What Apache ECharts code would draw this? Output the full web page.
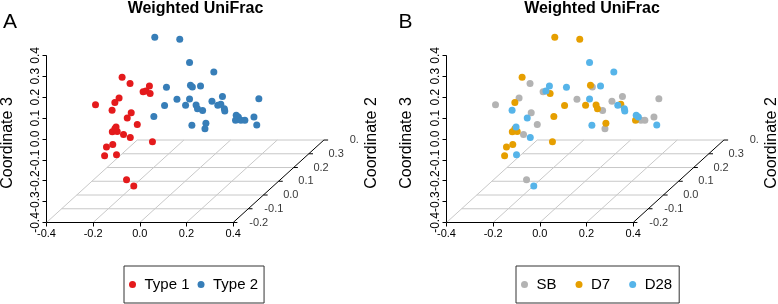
<!DOCTYPE html>
<html>
<head>
<meta charset="utf-8">
<script src="https://cdn.jsdelivr.net/npm/echarts@6/dist/echarts.min.js"></script>
<style>
html, body { margin: 0; padding: 0; background: #fff; }
#chart { width: 778px; height: 304px; }
</style>
</head>
<body>
<div id="chart"></div>
<script>
var FONT = 'Liberation Sans, Arial, sans-serif';

// samples: position along coordinate 1 and 3 as projected on the front face
var coord1 = [
    -0.076, -0.042, 0.041, 0.014, 0.026, 0.044, -0.089, -0.107, -0.190, -0.119,
    -0.037, -0.054, -0.011, -0.102, -0.118, -0.097, -0.107, -0.070, -0.041, 0.054,
    -0.116, -0.143, -0.151, -0.100, -0.057, -0.026,
    0.064, 0.171, 0.213, 0.317, 0.217, 0.225, 0.260, 0.114, 0.159, 0.213,
    0.309, 0.354, 0.510, 0.106, 0.196, 0.241, 0.247, 0.269, 0.334, 0.347,
    0.362, 0.364, 0.413, 0.422, 0.424, 0.410, 0.433, 0.450, 0.489, 0.501,
    0.223, 0.283, 0.279, 0.060
];
var coord3 = [
    0.295, 0.266, 0.253, 0.226, 0.230, 0.218, 0.196, 0.174, 0.164, 0.137,
    0.125, 0.100, 0.069, 0.057, 0.034, 0.036, 0.049, 0.021, 0.007, -0.014,
    -0.026, -0.039, -0.080, -0.076, -0.195, -0.225,
    0.487, 0.477, 0.366, 0.321, 0.257, 0.249, 0.254, 0.248, 0.190, 0.191,
    0.181, 0.203, 0.192, 0.160, 0.161, 0.162, 0.145, 0.136, 0.161, 0.166,
    0.145, 0.134, 0.113, 0.105, 0.094, 0.089, 0.089, 0.089, 0.105, 0.067,
    0.065, 0.075, 0.049, 0.107
];
var typeGroup = [
    'Type 1', 'Type 1', 'Type 1', 'Type 1', 'Type 1', 'Type 1', 'Type 1', 'Type 1', 'Type 1', 'Type 1',
    'Type 1', 'Type 1', 'Type 1', 'Type 1', 'Type 1', 'Type 1', 'Type 1', 'Type 1', 'Type 1', 'Type 1',
    'Type 1', 'Type 1', 'Type 1', 'Type 1', 'Type 1', 'Type 1',
    'Type 2', 'Type 2', 'Type 2', 'Type 2', 'Type 2', 'Type 2', 'Type 2', 'Type 2', 'Type 2', 'Type 2',
    'Type 2', 'Type 2', 'Type 2', 'Type 2', 'Type 2', 'Type 2', 'Type 2', 'Type 2', 'Type 2', 'Type 2',
    'Type 2', 'Type 2', 'Type 2', 'Type 2', 'Type 2', 'Type 2', 'Type 2', 'Type 2', 'Type 2', 'Type 2',
    'Type 2', 'Type 2', 'Type 2', 'Type 2'
];
var dayGroup = [
    'D7', 'SB', 'D28', 'SB', 'D28', 'D7', 'SB', 'D7', 'SB', 'D28',
    'SB', 'D28', 'SB', 'D28', 'D7', 'D7', 'D7', 'SB', 'D28', 'D7',
    'D7', 'D7', 'D7', 'D28', 'SB', 'D28',
    'D7', 'D7', 'D28', 'D28', 'D7', 'SB', 'D28', 'D28', 'SB', 'D28',
    'SB', 'SB', 'SB', 'D7', 'D7', 'D7', 'D7', 'SB', 'D28', 'D7',
    'D28', 'D28', 'D28', 'D28', 'SB', 'D7', 'SB', 'SB', 'SB', 'D28',
    'D28', 'D7', 'SB', 'D7'
];

var typeNames = ['Type 1', 'Type 2'];
var typeColors = ['#E41A1C', '#377EB8'];
var dayNames = ['SB', 'D7', 'D28'];
var dayColors = ['#B3B3B3', '#E69F00', '#56B4E9'];

// tick labels of the three axes
var coord1Ticks = [-0.4, -0.2, 0.0, 0.2, 0.4];
var coord3Ticks = [-0.4, -0.3, -0.2, -0.1, 0.0, 0.1, 0.2, 0.3, 0.4];
var coord2Ticks = [-0.2, -0.1, 0.0, 0.1, 0.2, 0.3, 0.4];

// how far one unit of coordinate 2 shifts right / up on the drawing
var DEPTH_X = 0.648;
var DEPTH_Z = 0.658;

// point on the floor of the box
function project(c1, c2) {
    var d = c2 - coord2Ticks[0];
    return [c1 + d * DEPTH_X, coord3Ticks[0] + d * DEPTH_Z];
}

function pointsOf(groups, name) {
    var out = [];
    for (var i = 0; i < groups.length; i++) {
        if (groups[i] === name) {
            out.push([coord1[i], coord3[i]]);
        }
    }
    return out;
}

function segment(grid, a, b, color) {
    return {
        type: 'line',
        xAxisIndex: grid,
        yAxisIndex: grid,
        data: [a, b],
        symbol: 'none',
        silent: true,
        clip: false,
        lineStyle: {color: color, width: 1},
        z: color === '#000' ? 2 : 1
    };
}

// floor grid, axis lines and coordinate 2 labels of one panel
function boxSeries(grid) {
    var list = [];
    var c1Min = coord1Ticks[0], c1Max = coord1Ticks[coord1Ticks.length - 1];
    var c2Min = coord2Ticks[0], c2Max = coord2Ticks[coord2Ticks.length - 1];
    coord2Ticks.forEach(function (t, i) {
        list.push(segment(grid, project(c1Min, t), project(c1Max, t), i === 0 ? '#000' : '#c8c8c8'));
    });
    coord1Ticks.forEach(function (t, i) {
        list.push(segment(grid, project(t, c2Min), project(t, c2Max), i === coord1Ticks.length - 1 ? '#000' : '#c8c8c8'));
    });
    list.push(segment(grid, [c1Min, coord3Ticks[0]], [c1Min, coord3Ticks[coord3Ticks.length - 1]], '#000'));
    coord2Ticks.forEach(function (t) {
        var p = project(c1Max, t);
        list.push(segment(grid, p, [p[0] + 0.018, p[1]], '#000'));
    });
    list.push({
        type: 'scatter',
        xAxisIndex: grid,
        yAxisIndex: grid,
        silent: true,
        symbolSize: 0,
        data: coord2Ticks.map(function (t) {
            return project(c1Max, t).concat(t);
        }),
        label: {
            show: true,
            position: 'inside',
            align: 'right',
            offset: [35, 0],
            fontSize: 11,
            fontFamily: FONT,
            color: '#000',
            formatter: function (p) {
                var s = p.value[2].toFixed(1);
                // the original figure cuts the last label at its edge
                return p.value[2] === c2Max ? s.slice(0, 2) : s;
            }
        },
        z: 3
    });
    return list;
}

function groupSeries(grid, groups, names, colors) {
    return names.map(function (name, i) {
        return {
            type: 'scatter',
            name: name,
            xAxisIndex: grid,
            yAxisIndex: grid,
            data: pointsOf(groups, name),
            symbolSize: 7,
            itemStyle: {color: colors[i], opacity: 1},
            z: 5
        };
    });
}

var panelLeft = [46.5, 446.5];

var xAxes = panelLeft.map(function (left, i) {
    return {
        gridIndex: i,
        type: 'value',
        min: -0.4,
        max: 1.0,
        axisLine: {show: false, onZero: false},
        splitLine: {show: false},
        axisTick: {customValues: coord1Ticks, length: 4, lineStyle: {color: '#000'}},
        axisLabel: {
            customValues: coord1Ticks,
            fontSize: 11,
            fontFamily: FONT,
            color: '#000',
            margin: 6,
            formatter: function (v) { return v.toFixed(1); }
        }
    };
});
var yAxes = panelLeft.map(function (left, i) {
    return {
        gridIndex: i,
        type: 'value',
        min: -0.4,
        max: 0.5,
        axisLine: {show: false, onZero: false},
        splitLine: {show: false},
        axisTick: {customValues: coord3Ticks, length: 4, lineStyle: {color: '#000'}},
        axisLabel: {
            customValues: coord3Ticks,
            rotate: 90,
            fontSize: 12,
            fontFamily: FONT,
            color: '#000',
            margin: 5,
            formatter: function (v) { return v.toFixed(1); }
        }
    };
});

function text(x, y, str, size, weight, rotation) {
    return {
        type: 'text',
        x: x,
        y: y,
        rotation: rotation || 0,
        silent: true,
        style: {
            text: str,
            fill: '#000',
            fontSize: size,
            fontWeight: weight,
            fontFamily: FONT,
            align: 'center',
            textAlign: 'center',
            verticalAlign: 'middle',
            textVerticalAlign: 'middle'
        }
    };
}

var legendBase = {
    top: 266,
    orient: 'horizontal',
    icon: 'circle',
    itemWidth: 14,
    itemHeight: 7,
    borderColor: '#333',
    borderWidth: 1,
    borderRadius: 0,
    textStyle: {fontSize: 15, fontFamily: FONT, color: '#000'}
};

var chart = echarts.init(document.getElementById('chart'));
chart.setOption({
    animation: false,
    grid: panelLeft.map(function (left) {
        return {left: left, top: 34.5, width: 326.7, height: 188};
    }),
    xAxis: xAxes,
    yAxis: yAxes,
    legend: [
        echarts.util.extend({left: 124, data: typeNames, itemGap: 8, padding: [11, 6, 11, 5]}, legendBase),
        echarts.util.extend({left: 516, data: dayNames, itemGap: 19, padding: [11, 7, 11, 5]}, legendBase)
    ],
    graphic: [
        text(195.5, 9, 'Weighted UniFrac', 16, 'bold'),
        text(592, 9, 'Weighted UniFrac', 16, 'bold'),
        text(10, 22, 'A', 21, 'normal'),
        text(405.5, 22, 'B', 21, 'normal'),
        text(8, 143, 'Coordinate 3', 16, 'normal', Math.PI / 2),
        text(406.5, 143, 'Coordinate 3', 16, 'normal', Math.PI / 2),
        text(372, 143, 'Coordinate 2', 16, 'normal', Math.PI / 2),
        text(772, 143, 'Coordinate 2', 16, 'normal', Math.PI / 2)
    ],
    series: boxSeries(0)
        .concat(boxSeries(1))
        .concat(groupSeries(0, typeGroup, typeNames, typeColors))
        .concat(groupSeries(1, dayGroup, dayNames, dayColors))
});
</script>
</body>
</html>
